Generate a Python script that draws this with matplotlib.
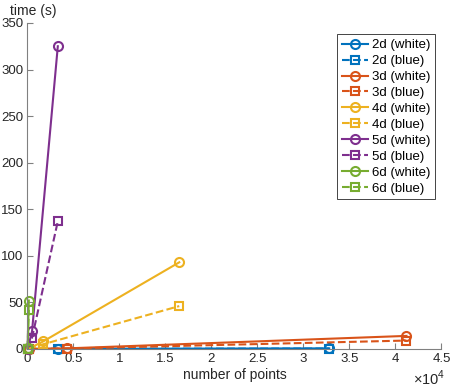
import numpy as np
import matplotlib.pyplot as plt

plt.rcParams['font.family'] = ['Liberation Sans', 'DejaVu Sans']
plt.rcParams['mathtext.fontset'] = 'custom'
plt.rcParams['mathtext.rm'] = 'Liberation Sans'

# number of points / time (s) for each dimension, white and blue noise
x2 = [100, 3300, 32800]
w2 = [0.01, 0.1, 0.6]
b2 = [0.01, 0.1, 0.4]
x3 = [150, 4300, 41200]
w3 = [0.02, 0.6, 14]
b3 = [0.02, 0.4, 9]
x4 = [100, 1700, 16500]
w4 = [0.1, 8, 93]
b4 = [0.1, 5, 46]
x5 = [30, 500, 3300]
w5 = [0.3, 19, 325]
b5 = [0.2, 12, 137]
x6 = [10, 150]
w6 = [0.5, 52]
b6 = [0.4, 42]

cols = ['#0072BD', '#D95319', '#EDB120', '#7E2F8E', '#77AC30']
series = [('2d', x2, w2, b2), ('3d', x3, w3, b3), ('4d', x4, w4, b4),
          ('5d', x5, w5, b5), ('6d', x6, w6, b6)]

fig = plt.figure(figsize=(4.5, 3.89), dpi=100)
ax = fig.add_axes([0.061, 0.103, 0.92, 0.838])
for (name, xs, ws, bs), c in zip(series, cols):
    ax.plot(xs, ws, '-', color=c, lw=1.5, marker='o', ms=6.5, mfc='none', mew=1.5,
            label=name + ' (white)', clip_on=False)
    ax.plot(xs, bs, '--', color=c, lw=1.5, marker='s', ms=5.5, mfc='none', mew=1.5,
            label=name + ' (blue)', clip_on=False)

ax.set_xlim(0, 45000)
ax.set_ylim(0, 350)
ax.set_xticks(np.arange(0, 45001, 5000))
ax.set_xticklabels(['0', '0.5', '1', '1.5', '2', '2.5', '3', '3.5', '4', '4.5'])
ax.set_yticks(np.arange(0, 351, 50))
for s in ['top', 'right']:
    ax.spines[s].set_visible(False)
for s in ['left', 'bottom']:
    ax.spines[s].set_color('#808080')
    ax.spines[s].set_linewidth(0.8)
ax.tick_params(direction='in', length=4, colors='#808080', labelcolor='#262626',
               labelsize=9.5, pad=3)
ax.set_xlabel('number of points', fontsize=10, color='#262626', labelpad=2)
fig.text(0.073, 0.972, 'time (s)', fontsize=10, color='#262626',
         ha='center', va='center')
fig.text(0.99, 0.028, r'$\times\mathrm{10}^{4}$', fontsize=10.5,
         color='#262626', ha='right', va='center')
leg = ax.legend(loc='upper right', bbox_to_anchor=(1.0, 0.985), fontsize=9.5,
                handlelength=2.0, handletextpad=0.3, labelspacing=0.28,
                borderpad=0.35, fancybox=False, framealpha=1)
leg.get_frame().set_edgecolor('#262626')
leg.get_frame().set_linewidth(0.6)
fig.savefig('out.png')
